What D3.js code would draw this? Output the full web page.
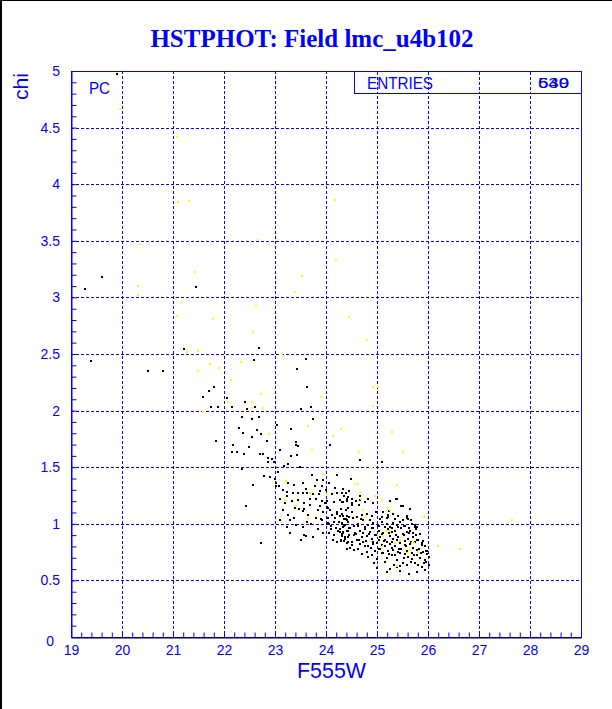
<!DOCTYPE html>
<html><head><meta charset="utf-8">
<script src="https://cdn.jsdelivr.net/npm/d3@7"></script>
<style>body{margin:0;background:#fff}svg{display:block}</style>
</head><body>
<script>
const titleText = "HSTPHOT: Field lmc_u4b102";
const xLabel = "F555W";
const yLabel = "chi";
const xTicks = [19,20,21,22,23,24,25,26,27,28,29];
const yTicks = [0,0.5,1,1.5,2,2.5,3,3.5,4,4.5,5];
const entriesA = "539";
const entriesB = "640";

const blackPts = [
[19.90,4.97],[19.60,3.18],[19.27,3.07],[21.46,3.09],[21.22,2.54],[19.39,2.44],[20.50,2.35],[20.80,2.35],[22.58,2.45],[22.69,2.55],[21.80,2.21],[23.61,2.46],[23.44,2.37],[23.63,2.21],[21.71,2.17],[21.58,2.12],[22.05,2.11],[22.42,2.08],[22.16,2.03],[21.75,2.03],[21.88,2.03],[22.46,2.01],[22.60,2.03],[23.50,2.01],[23.71,2.03],[22.35,1.94],[22.54,1.93],[22.69,1.94],[23.74,1.93],[22.29,1.85],[22.37,1.80],[22.64,1.83],[22.73,1.79],[22.54,1.77],[21.84,1.73],[23.03,1.87],[23.31,1.84],[23.41,1.72],[23.41,1.70],[22.18,1.70],[22.84,1.73],[23.46,1.69],[22.49,1.68],[24.07,1.70],[22.16,1.63],[22.25,1.63],[22.40,1.62],[22.71,1.62],[22.77,1.62],[23.10,1.65],[23.31,1.60],[23.43,1.61],[22.87,1.58],[22.94,1.57],[22.87,1.55],[22.98,1.55],[23.18,1.51],[23.49,1.50],[23.25,1.53],[22.35,1.48],[22.78,1.42],[22.90,1.41],[23.02,1.36],[23.08,1.33],[23.02,1.33],[22.56,1.34],[23.25,1.36],[23.37,1.34],[23.54,1.36],[23.72,1.43],[23.82,1.39],[23.94,1.39],[24.05,1.36],[24.21,1.43],[23.24,1.28],[23.35,1.27],[23.46,1.27],[23.23,1.25],[23.10,1.22],[23.33,1.20],[23.54,1.27],[23.62,1.27],[23.57,1.18],[23.69,1.17],[23.75,1.26],[23.86,1.26],[23.88,1.29],[23.92,1.33],[23.80,1.22],[23.92,1.20],[23.48,1.13],[23.56,1.13],[23.54,1.11],[23.84,1.12],[23.95,1.10],[24.04,1.14],[24.01,1.20],[24.12,1.26],[23.29,1.03],[23.10,1.03],[23.55,0.97],[23.80,1.05],[23.93,1.03],[24.04,1.05],[24.03,1.01],[24.22,1.10],[24.27,1.07],[24.30,1.13],[24.39,1.12],[24.43,1.14],[24.41,1.03],[24.31,1.27],[24.39,1.27],[24.22,1.27],[24.33,1.31],[24.45,1.29],[24.31,1.19],[24.41,1.20],[24.09,0.95],[23.23,0.97],[23.29,0.92],[23.61,0.89],[23.57,0.90],[24.16,0.90],[24.22,0.84],[24.24,0.94],[24.34,0.92],[24.43,0.94],[24.33,0.97],[24.41,0.78],[24.29,0.86],[22.72,0.83],[22.44,1.16],
[24.67,1.56],[25.10,1.55],[24.49,1.40],[24.35,1.25],[24.43,1.24],[24.50,1.22],[24.51,1.17],[24.67,1.25],[24.65,1.17],[25.37,1.22],[25.50,1.16],[25.64,1.13],[25.58,1.07],[25.67,1.03],[25.75,0.99],[25.76,0.95],[25.88,0.83],[25.99,0.76],[25.12,1.10],[25.21,1.06],[25.24,1.11],
[23.05,1.46],[23.00,1.40],[23.15,1.30],[23.20,1.18],[23.40,1.14],[23.45,1.21],[23.65,1.08],[23.70,1.00],[23.68,1.22],[23.60,1.31],[23.38,1.05],[23.85,0.95],[23.95,0.92],[23.90,1.04],[23.25,1.08],[23.50,0.86],[23.75,0.88],[23.98,1.18],[24.00,1.30],[23.78,1.33],[23.88,1.16],[24.15,1.19],[24.18,1.32],[23.62,1.02],[23.42,0.99],[23.15,1.12],
[24.02,1.15],[24.08,1.12],[24.12,1.08],[24.18,1.05],[24.25,1.02],[24.05,1.00],[24.10,0.98],[24.15,1.02],[24.20,0.96],[24.28,0.93],[24.35,0.98],[24.40,1.04],[24.45,0.96],[24.38,0.88],[24.44,0.84],[24.30,0.85],[24.14,0.86],[24.06,0.92],[24.22,1.09],[24.33,1.07],[24.46,1.06],
[24.28,1.21],[24.34,1.19],[24.42,1.22],[24.50,1.18],[24.59,1.20],[24.67,1.21],[24.76,1.19],[24.83,1.22],[24.93,1.18],[25.26,1.20],[25.39,1.22],[25.48,1.16],
[24.31,1.09],[24.41,1.07],[24.50,1.10],[24.60,1.06],[24.70,1.08],[24.80,1.09],[24.90,1.07],[24.99,1.10],[25.09,1.06],[25.22,1.08],[25.32,1.09],[25.42,1.07],[25.58,1.05],
[24.31,1.01],[24.37,0.99],[24.44,1.02],[24.54,0.98],[24.63,1.00],[24.73,1.03],[24.83,0.99],[24.93,1.01],[25.01,0.98],[25.09,1.02],[25.19,1.00],[25.26,0.97],[25.32,1.01],[25.39,0.99],[25.45,1.02],[25.55,0.98],[25.68,1.00],[25.78,0.97],
[24.28,0.95],[24.34,0.93],[24.41,0.94],[24.47,0.96],[24.57,0.92],[24.67,0.94],[24.76,0.95],[24.86,0.93],[24.93,0.96],[25.03,0.94],[25.12,0.92],[25.22,0.95],[25.29,0.93],[25.35,0.94],[25.48,0.96],[25.58,0.93],[25.65,0.94],[25.71,0.92],
[24.31,0.89],[24.37,0.87],[24.44,0.88],[24.54,0.90],[24.60,0.86],[24.70,0.88],[24.80,0.89],[24.90,0.87],[24.96,0.90],[25.06,0.88],[25.16,0.86],[25.26,0.89],[25.32,0.87],[25.42,0.88],[25.52,0.90],[25.61,0.87],[25.71,0.88],[25.81,0.86],
[24.41,0.83],[24.50,0.81],[24.67,0.82],[24.73,0.84],[24.83,0.80],[24.93,0.82],[25.00,0.83],[25.09,0.81],[25.19,0.84],[25.26,0.82],[25.35,0.80],[25.45,0.83],[25.55,0.81],[25.65,0.82],[25.75,0.84],[25.88,0.81],
[24.54,0.77],[24.80,0.75],[24.96,0.76],[25.06,0.78],[25.12,0.74],[25.22,0.76],[25.32,0.77],[25.42,0.75],[25.48,0.78],[25.58,0.76],[25.68,0.74],[25.78,0.77],[25.91,0.75],[25.97,0.76],
[24.83,0.71],[25.00,0.69],[25.19,0.70],[25.29,0.72],[25.39,0.68],[25.52,0.70],[25.61,0.71],[25.68,0.69],[25.78,0.72],[25.84,0.70],[25.94,0.68],[26.01,0.71],
[25.00,0.61],[25.26,0.60],[25.39,0.62],[25.45,0.63],[25.58,0.64],[25.75,0.65],[25.88,0.62],[25.97,0.66],
[24.34,0.97],[24.48,0.96],[24.62,0.98],[24.77,0.97],[24.90,0.96],[25.04,0.98],[25.15,0.97],[25.30,0.96],[25.42,0.97],[25.52,0.98],[25.63,0.96],[25.74,0.97],
[24.31,0.91],[24.45,0.90],[24.58,0.91],[24.72,0.92],[24.85,0.91],[24.99,0.90],[25.10,0.91],[25.24,0.92],[25.38,0.90],[25.50,0.91],[25.62,0.92],[25.76,0.90],[25.85,0.91],
[24.35,0.85],[24.50,0.84],[24.64,0.86],[24.78,0.85],[24.92,0.84],[25.03,0.86],[25.14,0.85],[25.29,0.84],[25.40,0.86],[25.55,0.85],[25.66,0.84],[25.78,0.86],[25.90,0.85],
[24.47,0.79],[24.62,0.78],[24.77,0.80],[24.88,0.79],[25.03,0.78],[25.16,0.80],[25.30,0.79],[25.43,0.78],[25.56,0.80],[25.70,0.79],[25.82,0.78],[25.94,0.80],
[24.70,0.73],[24.90,0.72],[25.09,0.74],[25.24,0.73],[25.35,0.72],[25.46,0.74],[25.55,0.73],[25.72,0.72],[25.86,0.74],[25.98,0.73],
[24.95,0.65],[25.15,0.66],[25.33,0.64],[25.50,0.65],[25.66,0.66],[25.80,0.64],[25.92,0.65],[26.02,0.64],
[24.36,1.04],[24.52,1.05],[24.68,1.04],[24.86,1.03],[25.05,1.04],[25.20,1.05],[25.36,1.04],[25.50,1.03],[25.60,1.04],
[25.20,0.57],[25.45,0.58],[25.62,0.56],[25.78,0.57],[25.95,0.59]
];

const yellowPts = [
[19.97,4.66],[21.07,4.42],[21.10,3.84],[21.31,3.85],[22.67,3.51],[20.35,3.47],[21.43,3.22],[20.31,3.10],[20.31,3.02],[21.15,2.96],[21.07,2.84],[21.78,2.81],[22.63,2.92],[22.56,2.69],[21.27,2.52],[21.49,2.53],[21.73,2.41],[21.91,2.38],[22.33,2.43],[21.49,2.35],[22.13,2.27],[23.14,2.50],[22.72,2.15],[23.90,2.12],[22.08,2.08],[22.55,2.08],[22.55,2.02],[22.76,2.02],[21.58,1.99],[23.65,1.86],[24.29,1.84],[22.89,1.79],[24.13,1.78],[23.73,1.65],[23.97,1.43],[23.22,1.38],[23.69,1.27],[24.01,1.26],[23.19,1.21],[23.42,1.16],[23.64,1.05],[24.93,2.21],[25.01,2.21],[24.92,2.04],[25.29,1.81],[24.65,1.63],[25.50,1.63],[24.90,1.49],[24.56,1.35],[24.63,1.35],[24.69,1.28],[24.97,1.25],[25.10,1.21],[25.40,1.34],[24.68,1.22],[25.21,1.14],[25.25,1.12],[24.73,1.12],[24.57,1.06],[24.78,1.07],[25.92,1.06],[25.18,0.94],[25.25,0.94],[25.01,0.89],[25.11,0.89],[25.35,0.83],[25.46,0.85],[25.69,0.83],[25.73,0.83],[25.58,0.74],[25.63,0.77],[25.81,0.75],[26.19,0.80],[26.63,0.78],[25.39,0.63],[25.11,0.80],[27.65,1.03],[24.18,3.86],[23.53,3.19],[23.40,3.05],[24.45,2.83],[24.80,2.62],[24.20,3.33]
];

const W = 612, H = 709;
const L = 71, R = 581, T = 71, B = 637;
const blue = "#0000ff";

const svg = d3.select("body").append("svg").attr("width", W).attr("height", H);
svg.append("rect").attr("width", W).attr("height", H).attr("fill", "#fff");
svg.append("rect").attr("x",0).attr("y",0).attr("width",2).attr("height",H).attr("fill","#000");
svg.append("rect").attr("x",0).attr("y",0).attr("width",W).attr("height",1).attr("fill","#000");

const x = d3.scaleLinear().domain([19,29]).range([L,R]);
const y = d3.scaleLinear().domain([0,5]).range([B,T]);

const g = svg.append("g");
g.selectAll(".gx").data(xTicks.slice(1,-1)).join("line")
  .attr("x1", d=>x(d)+0.5).attr("x2", d=>x(d)+0.5).attr("y1", T).attr("y2", B)
  .attr("stroke", blue).attr("stroke-width",1).attr("stroke-dasharray","3,2");
g.selectAll(".gy").data(yTicks.slice(1,-1)).join("line")
  .attr("y1", d=>Math.round(y(d))+0.5).attr("y2", d=>Math.round(y(d))+0.5).attr("x1", L).attr("x2", R)
  .attr("stroke", blue).attr("stroke-width",1).attr("stroke-dasharray","3,2");

const pts = svg.append("g");
pts.selectAll(".b").data(blackPts).join("rect")
  .attr("x", d=>Math.round(x(d[0]))-1).attr("y", d=>Math.round(y(d[1]))-1)
  .attr("width",2).attr("height",2).attr("fill","#000");
pts.selectAll(".yl").data(yellowPts).join("rect")
  .attr("x", d=>Math.round(x(d[0]))-1).attr("y", d=>Math.round(y(d[1]))-1)
  .attr("width",2).attr("height",2).attr("fill","#ffff00");

svg.append("rect").attr("x", L+0.5).attr("y", T+0.5).attr("width", R-L).attr("height", B-T)
  .attr("fill","none").attr("stroke", blue).attr("stroke-width",1);

const xMinor = d3.range(19, 29.001, 0.2).map(v=>+v.toFixed(1));
const yMinor = d3.range(0, 5.001, 0.1).map(v=>+v.toFixed(1));
const xAxisMinor = svg.append("g").attr("transform",`translate(0,${B+0.5})`)
  .call(d3.axisTop(x).tickValues(xMinor).tickSize(5).tickFormat(""));
xAxisMinor.select(".domain").attr("stroke","#000");
xAxisMinor.selectAll(".tick line").attr("stroke", blue);

const yAxisMinor = svg.append("g").attr("transform",`translate(${L+0.5},0)`)
  .call(d3.axisRight(y).tickValues(yMinor).tickSize(5).tickFormat(""));
yAxisMinor.select(".domain").attr("stroke", blue);
yAxisMinor.selectAll(".tick line").attr("stroke", blue);

const xLab = svg.append("g").attr("transform",`translate(0,${B})`)
  .call(d3.axisBottom(x).tickValues(xTicks).tickSize(0).tickPadding(0).tickFormat(d3.format("d")));
xLab.select(".domain").remove();
xLab.selectAll("text").attr("fill", blue).attr("font-family","Liberation Sans, Arial, sans-serif")
  .attr("font-size","14px").attr("y", 18).attr("dy", 0);

const yLab = svg.append("g").attr("transform",`translate(${L},0)`)
  .call(d3.axisLeft(y).tickValues(yTicks).tickSize(0).tickPadding(11).tickFormat(d=>d===0?"0":d3.format("")(d)));
yLab.select(".domain").remove();
yLab.selectAll("text").attr("fill", blue).attr("font-family","Liberation Sans, Arial, sans-serif")
  .attr("font-size","14px");
yLab.selectAll(".tick").filter(d=>d===0).select("text").attr("x",-17).attr("dy","0.6em");

svg.append("text").attr("x", 312).attr("y", 47).attr("text-anchor","middle")
  .attr("font-family","Liberation Serif, Times New Roman, serif").attr("font-weight","bold")
  .attr("font-size","25px").attr("fill", blue).text(titleText);

svg.append("text").attr("x", 297).attr("y", 678).attr("font-family","Liberation Sans, Arial, sans-serif")
  .attr("font-size","22px").attr("fill", blue).attr("textLength",69).attr("lengthAdjust","spacingAndGlyphs").text(xLabel);
svg.append("text").attr("transform","translate(28,73) rotate(-90)").attr("text-anchor","end")
  .attr("font-family","Liberation Sans, Arial, sans-serif").attr("font-size","20px").attr("fill", blue)
  .attr("textLength",27).attr("lengthAdjust","spacingAndGlyphs").text(yLabel);

svg.append("text").attr("x", 89).attr("y", 94).attr("font-family","Liberation Sans, Arial, sans-serif")
  .attr("font-size","16px").attr("fill", blue).attr("textLength",21).attr("lengthAdjust","spacingAndGlyphs").text("PC");

svg.append("rect").attr("x", 354.5).attr("y", T+0.5).attr("width", R-354).attr("height", 22)
  .attr("fill","#fff").attr("stroke", blue).attr("stroke-width",1);
svg.selectAll(".gxb").data(xTicks.filter(v=>x(v)>354 && x(v)<R)).join("line")
  .attr("x1", d=>x(d)+0.5).attr("x2", d=>x(d)+0.5).attr("y1", T+1).attr("y2", T+22)
  .attr("stroke", blue).attr("stroke-width",1).attr("stroke-dasharray","3,2");
svg.append("text").attr("x", 367).attr("y", 89).attr("font-family","Liberation Sans, Arial, sans-serif")
  .attr("font-size","16px").attr("fill", blue).attr("textLength",66).attr("lengthAdjust","spacingAndGlyphs").text("ENTRIES");
[entriesA, entriesB].forEach(t=>{
  svg.append("text").attr("x", 538).attr("y", 88).attr("font-family","Liberation Sans, Arial, sans-serif")
    .attr("font-size","15px").attr("fill", blue).attr("textLength",31).attr("lengthAdjust","spacingAndGlyphs").text(t);
});
</script>
</body></html>
